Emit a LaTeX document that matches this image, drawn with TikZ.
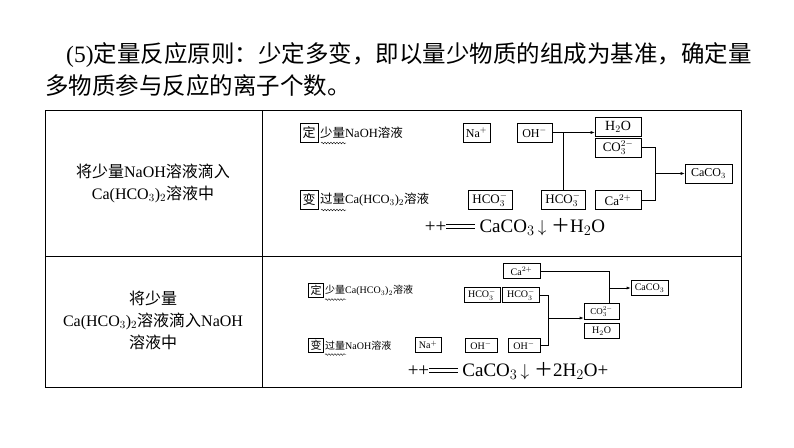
\documentclass[tikz,border=0pt]{standalone}
\usepackage{fontspec}
\setmainfont{Liberation Serif}
\newfontfamily\cjk{Noto Sans CJK SC}
\usetikzlibrary{decorations.pathmorphing,arrows.meta}
\newcommand{\dbleq}{\rlap{\rule[0.22em]{1.5em}{0.5pt}}\rule[0.42em]{1.5em}{0.5pt}}
\begin{document}
\begin{tikzpicture}[x=1pt,y=-1pt,
  bx/.style={draw,line width=0.6pt,inner sep=0pt,minimum height=19pt,font=\fontsize{12}{12}\selectfont},
  sbx/.style={draw,line width=0.6pt,inner sep=0pt,minimum height=14.5pt,font=\fontsize{10}{10}\selectfont},
  ln/.style={line width=0.6pt},
  ar/.style={line width=0.6pt,-{Latex[length=4pt,width=3pt]}},
  wav/.style={decorate,decoration={snake,amplitude=0.8pt,segment length=3pt},line width=0.4pt}]
\useasboundingbox (0,0) rectangle (794,447);
% title
\node[anchor=west,font=\fontsize{23.5}{26}\selectfont,inner sep=0] (t1) at (66,55) {(5)\cjk 定量反应原则：少定多变，即以量少物质的组成为基准，确定量};
\node[anchor=west,font=\fontsize{23.5}{26}\selectfont,inner sep=0] (t2) at (45,86) {\cjk 多物质参与反应的离子个数。};
% table
\draw[line width=0.8pt] (45,110) rectangle (741,387);
\draw[line width=0.8pt] (262,110) -- (262,387);
\draw[line width=0.8pt] (45,256) -- (741,256);
\node[align=center,font=\fontsize{16}{22}\selectfont] (l1) at (153,183) {{\cjk 将少量}NaOH{\cjk 溶液滴入}\\Ca(HCO$_3$)$_2${\cjk 溶液中}};
\node[align=center,font=\fontsize{16}{22}\selectfont] (l2) at (153,320) {{\cjk 将少量}\\Ca(HCO$_3$)$_2${\cjk 溶液滴入}NaOH\\{\cjk 溶液中}};
% top diagram
\node[bx,minimum width=18pt,font=\fontsize{13}{13}\cjk] (d1) at (309,133) {定};
\node[anchor=west,inner sep=1pt,font=\fontsize{12.5}{13}\selectfont] (d1t) at (319,133) {{\cjk 少量}NaOH{\cjk 溶液}};
\draw[wav] (321,143) -- (346,143);
\node[bx,minimum width=27pt] (na) at (476.5,132.5) {Na$^+$};
\node[bx,minimum width=35pt] (oh) at (534.5,132.5) {OH$^-$};
\node[bx,minimum width=46pt,font=\fontsize{14}{14}\selectfont] (h2o) at (618,126.5) {H$_2$O};
\node[bx,minimum width=46pt,font=\fontsize{13}{13}\selectfont] (co3) at (618,147.5) {CO$_3^{2-}$};
\node[bx,minimum width=47pt] (caco) at (708.5,173.5) {CaCO$_3$};
\node[bx,minimum width=18pt,font=\fontsize{13}{13}\cjk] (b1) at (309,200) {变};
\node[anchor=west,inner sep=1pt,font=\fontsize{12.5}{13}\selectfont] (b1t) at (319,200) {{\cjk 过量}Ca(HCO$_3$)$_2${\cjk 溶液}};
\draw[wav] (321,210) -- (346,210);
\node[bx,minimum width=44pt,font=\fontsize{13}{13}\selectfont] (hc1) at (490,200) {HCO$_3^-$};
\node[bx,minimum width=44pt,font=\fontsize{13}{13}\selectfont] (hc2) at (563,200) {HCO$_3^-$};
\node[bx,minimum width=46pt,font=\fontsize{13}{13}\selectfont] (ca) at (618,200) {Ca$^{2+}$};
\coordinate (j1) at (563,132.5);
\draw[ar] (oh.east) -- (h2o.west |- oh.east);
\draw[ln] (j1) -- (hc2.north);
\coordinate (j2) at (655,147.5);
\coordinate (j3) at (655,200);
\draw[ln] (co3.east) -- (j2) -- (j3) -- (ca.east);
\coordinate (j4) at (655,173.5);
\draw[ar] (j4) -- (caco.west);
\node[font=\fontsize{19}{20}\selectfont] (e1) at (515,227) {++\dbleq\ CaCO$_3$\,$\downarrow$\ {\cjk ＋}H$_2$O};
% bottom diagram
\node[sbx,minimum width=37pt] (ca2) at (521.5,271) {Ca$^{2+}$};
\node[sbx,minimum width=15pt,font=\fontsize{11}{11}\cjk] (d2) at (316,290.5) {定};
\node[anchor=west,inner sep=1pt,font=\fontsize{10}{10}\selectfont] (d2t) at (324,290.5) {{\cjk 少量}Ca(HCO$_3$)$_2${\cjk 溶液}};
\draw[wav] (325,299.5) -- (346,299.5);
\node[sbx,minimum width=36pt] (h1) at (482,295) {HCO$_3^-$};
\node[sbx,minimum width=37pt] (h2) at (521,295) {HCO$_3^-$};
\node[sbx,minimum width=37pt] (cac2) at (649.5,288) {CaCO$_3$};
\node[sbx,minimum width=35pt,minimum height=16pt,font=\fontsize{9}{9}\selectfont] (co32) at (601.5,311.5) {CO$_3^{2-}$};
\node[sbx,minimum width=35pt,minimum height=15pt] (hh2) at (601.5,331) {H$_2$O};
\node[sbx,minimum width=15pt,font=\fontsize{11}{11}\cjk] (b2) at (316,345.5) {变};
\node[anchor=west,inner sep=1pt,font=\fontsize{10}{10}\selectfont] (b2t) at (324,345.5) {{\cjk 过量}NaOH{\cjk 溶液}};
\draw[wav] (325,354.5) -- (346,354.5);
\node[sbx,minimum width=26pt] (na2) at (428,345) {Na$^+$};
\node[sbx,minimum width=32pt] (o1) at (481,345.5) {OH$^-$};
\node[sbx,minimum width=32pt] (o2) at (524,345.5) {OH$^-$};
\coordinate (k1) at (609,271);
\draw[ln] (ca2.east) -- (k1) -- (k1 |- co32.north);
\coordinate (k2) at (609,288);
\draw[ar] (k2) -- (cac2.west);
\coordinate (k3) at (548,295);
\coordinate (k4) at (548,345.5);
\draw[ln] (h2.east) -- (k3) -- (k4) -- (o2.east);
\coordinate (k5) at (548,318);
\draw[ar] (k5) -- (co32.west |- k5);
\node[font=\fontsize{19}{20}\selectfont] (e2) at (508,371) {++\dbleq\ CaCO$_3$\,$\downarrow$\ {\cjk ＋}2H$_2$O+};
\end{tikzpicture}
\end{document}
